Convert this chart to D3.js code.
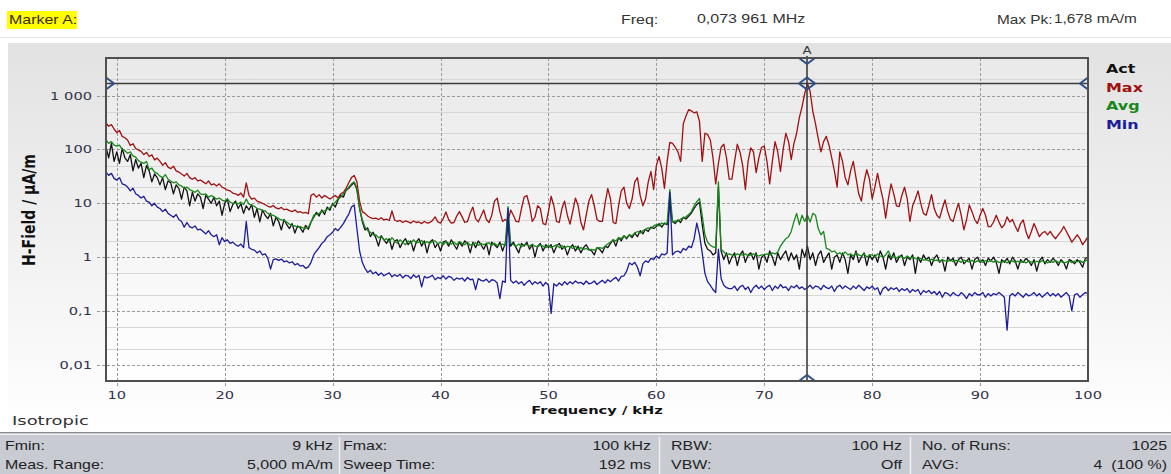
<!DOCTYPE html>
<html>
<head>
<meta charset="utf-8">
<script src="https://cdn.jsdelivr.net/npm/d3@7"></script>
<style>
  html, body { margin: 0; padding: 0; background: #fff; }
  svg { display: block; }
</style>
</head>
<body>
<svg id="chart" width="1171" height="474"></svg>
<script>
// sweep grid: 9 kHz .. 100 kHz, one reading every 0.25 kHz
const fStart = 9, fStep = 0.25;

// H-field readings in µA/m, one row per kHz (4 readings each)
const maxTrace = [
  310, 270, 290, 240,  205, 225, 175, 165,  150, 118, 128, 104,  98, 92, 80, 88,
  74, 80, 64, 69,  60, 51, 57, 47,  44, 49, 40, 38,  35, 32, 36, 30,
  28, 30, 26, 27,  25, 23, 26, 22,  23, 21, 23, 20,  19, 17.5, 17, 15.5,
  15, 14, 15.5, 13,  24, 14, 12, 12.5,  11, 10.5, 10, 9.4,  8.8, 8.5, 9.1, 8.2,
  7.9, 8.4, 7.6, 7.8,  7.3, 7.0, 7.5, 6.8,  7.0, 6.6, 6.8, 6.4,  14, 15, 13, 14.5,
  12.5, 14, 13, 12,  13, 14, 12.5, 15,  16, 19, 24, 30,  33, 25, 11, 7,
  6.5, 5.8, 5.4, 5.2,  5.3, 5.0, 5.4, 4.9,  5.1, 4.8, 7.2, 4.9,  4.6, 4.8, 4.4, 4.7,
  4.5, 4.3, 4.7, 4.4,  4.5, 4.2, 4.6, 4.3,  4.4, 4.8, 5.6, 4.5,  4.3, 5.2, 6.9, 5.0,
  4.3, 4.4, 5.8, 7.0,  5.6, 4.4, 4.6, 6.6,  8.5, 5.2, 4.5, 5.8,  7.5, 5.0, 4.4, 6.0,
  11, 12.5, 7.0, 4.6,  5.0, 4.5, 7.5, 6.0,  4.6, 4.5, 8.0, 13,  14, 9, 4.6, 5.5,
  9, 8, 4.2, 4.0,  7, 13.5, 9, 4.6,  4.4, 8, 11, 6,  4.1, 7, 12.5, 9,
  4.5, 3.2, 6, 11,  14.5, 9, 5.0, 4.6,  4.6, 10, 19, 12,  4.4, 4.2, 9, 17,
  20, 10, 8, 12,  25, 30, 14, 9,  12, 25, 39, 18,  50, 74, 45, 19,
  60, 135, 130, 110,  90, 60, 300, 420,  550, 520, 480, 500,  330, 60, 200, 190,
  150, 70, 23, 55,  110, 125, 70, 28,  28, 60, 125, 90,  50, 18, 60, 107,
  90, 37, 70, 110,  115, 60, 23, 60,  140, 90, 39, 100,  200, 140, 65, 130,
  200, 390, 620, 1100,  1678, 1200, 510, 300,  160, 90, 140, 175,  120, 70, 40, 20,
  90, 60, 30, 22,  40, 60, 30, 15,  11, 25, 42, 28,  12, 20, 36, 20,
  12, 5.3, 12, 23,  15, 9, 8.7, 14,  20, 12, 4.6, 9,  12, 17, 10, 6.5,
  6, 9, 14.5, 8,  6, 5.3, 8, 11.6,  7, 5, 4.6, 7,  10, 6, 3.2, 5,
  9.3, 7, 5, 4.2,  6, 8, 6, 3.7,  3.7, 4.5, 6, 4.5,  3.5, 4, 5.6, 4.5,
  5, 3.8, 3.0, 4.2,  4.9, 3.0, 2.2, 3,  4.2, 3.2, 2.4, 2.8,  3, 2.6, 3, 2.5,
  2.2, 2.6, 3.0, 3.7,  3, 2.4, 1.9, 2.2,  2.6, 2.2, 1.7, 2.0,
  2.4
];

const avgTrace = [
  150, 130, 140, 120,  115, 120, 100, 95,  85, 90, 76, 72,  62, 58, 55, 60,
  42, 45, 38, 36,  32, 30, 34, 28,  26, 24, 25, 22,  21, 19, 20, 18,
  17, 16, 17.5, 15,  14.5, 15, 13, 14,  13, 12, 12.5, 11.5,  11, 12, 10.5, 10,
  10.2, 9.8, 10.5, 9.5,  12, 9.6, 9.2, 8.8,  8, 7.8, 7.4, 7.2,  6.5, 6.1, 6.0, 5.6,
  5.2, 4.9, 4.8, 4.5,  4.1, 3.9, 3.8, 3.6,  3.7, 3.5, 3.4, 3.6,  4.5, 6, 6.2, 6.5,
  7, 7.2, 7.8, 8.2,  9.5, 10.5, 12, 13,  15, 17, 20, 23,  25, 19, 8, 5,
  3.6, 3.1, 2.9, 2.6,  2.6, 2.3, 2.4, 2.1,  2.2, 1.9, 2.3, 2.0,  1.8, 2.1, 1.9, 1.7,
  2.0, 1.8, 2.1, 1.85,  1.9, 2.05, 1.75, 1.95,  1.8, 1.95, 2.0, 1.75,  1.9, 1.7, 1.95, 1.8,
  1.75, 1.9, 1.7, 1.95,  1.8, 1.7, 1.9, 1.65,  1.75, 1.85, 1.65, 1.8,  1.7, 1.8, 1.85, 1.65,
  1.8, 1.65, 1.7, 1.75,  1.65, 8.7, 1.8, 1.7,  1.6, 1.75, 1.55, 1.7,  1.7, 1.6, 1.75, 1.6,
  1.55, 1.7, 1.6, 1.5,  1.65, 1.5, 1.6, 1.7,  1.5, 1.65, 1.45, 1.6,  1.55, 1.45, 1.6, 1.4,
  1.5, 1.4, 1.45, 1.35,  1.4, 1.35, 1.45, 1.5,  1.45, 1.6, 1.75, 1.9,  2.1, 2.0, 2.3, 2.2,
  2.5, 2.3, 2.6, 2.5,  2.8, 3.0, 2.8, 3.1,  3.3, 3.5, 3.4, 3.8,  4.0, 3.8, 4.3, 4.1,
  4.3, 18, 4.5, 4.7,  4.6, 5.1, 5.4, 5.6,  6.2, 7.0, 9, 10.7,  12.3, 6, 2.6, 1.9,
  1.66, 1.55, 1.5, 25,  1.4, 1.26, 1.1, 1.15,  1.1, 1.05, 1.15, 1.1,  1.1, 1.15, 1.05, 1.1,
  1.15, 1.1, 1.05, 1.1,  1.1, 1.15, 1.1, 1.2,  1.15, 1.25, 1.6, 1.9,  2.2, 2.4, 3, 4.6,
  6.5, 4, 6, 4.6,  6, 4.5, 6.5, 6,  3.4, 2.6, 3, 1.45,  1.4, 1.25, 1.3, 1.15,
  1.2, 1.1, 1.25, 1.1,  1.15, 1.05, 1.2, 1.1,  1.05, 1.15, 1.0, 1.1,  1.1, 1.0, 1.15, 1.05,
  1.0, 1.1, 1.3, 1.0,  1.05, 0.95, 1.05, 1.0,  0.95, 1.05, 0.95, 1.0,  0.95, 0.9, 0.95, 0.88,
  0.9, 0.85, 0.92, 0.86,  0.88, 0.82, 0.9, 0.85,  0.83, 0.9, 0.82, 0.87,  0.86, 0.8, 0.88, 0.84,
  0.82, 0.87, 0.8, 0.85,  0.84, 0.8, 0.86, 0.82,  0.86, 0.81, 0.85, 0.8,  0.8, 0.86, 0.78, 0.84,
  0.85, 0.8, 0.84, 0.79,  0.83, 0.78, 0.85, 0.81,  0.79, 0.84, 0.8, 0.86,  0.82, 0.78, 0.84, 0.8,
  0.86, 0.8, 0.83, 0.78,  0.81, 0.85, 0.79, 0.84,  0.82, 0.86, 0.8, 0.85,
  0.9
];

const actTrace = [
  110, 70, 130, 60,  90, 55, 105, 70,  60, 80, 40, 65,  45, 55, 30, 50,
  40, 25, 35, 30,  22, 30, 18, 26,  24, 15, 22, 19,  12, 20, 17, 9,
  16, 11, 15, 13,  8, 14, 12, 10,  13, 9, 11, 6,  10, 12, 7, 9.5,
  11, 8, 9.8, 6.5,  9, 7.5, 9.5, 5.5,  8, 4.5, 7.5, 6,  5.2, 6.5, 3.8, 5.5,
  4.6, 3.2, 5, 4.0,  3.4, 4.2, 2.8, 3.8,  3.5, 2.9, 3.9, 3.3,  4.5, 5.5, 6.8, 5.8,
  7.5, 6.2, 8.5, 7.4,  10, 8.5, 11.5, 14,  13, 18, 19, 22,  24, 18, 8, 4.6,
  3.2, 3.5, 2.4, 2.9,  2.3, 1.6, 2.5, 2.1,  1.8, 2.2, 1.4, 2.0,  2.1, 1.5, 1.9, 2.2,
  1.7, 2.0, 1.3, 1.9,  2.2, 1.6, 2.0, 1.2,  1.9, 2.1, 1.5, 1.8,  1.3, 1.9, 2.0, 1.6,
  2.1, 1.7, 1.4, 1.9,  1.6, 2.0, 1.8, 1.2,  1.9, 1.5, 2.0, 1.7,  1.4, 1.8, 1.1, 1.9,
  1.7, 1.5, 1.9, 1.3,  1.8, 4, 1.6, 1.9,  1.5, 1.2, 1.8, 1.6,  1.9, 1.4, 1.7, 1.0,
  1.6, 1.8, 1.3, 1.7,  1.5, 1.7, 1.2, 1.6,  1.8, 1.4, 1.6, 1.1,  1.5, 1.7, 1.3, 1.6,
  1.2, 1.5, 1.7, 1.4,  1.3, 1.1, 1.5, 1.4,  1.2, 1.6, 1.5, 1.8,  2.1, 1.6, 2.3, 2.0,
  2.5, 2.2, 2.6, 2.3,  2.8, 2.4, 3.1, 2.7,  3.3, 3.0, 3.6, 3.4,  3.7, 4.2, 3.6, 4.3,
  4.0, 10, 4.6, 4.2,  4.9, 4.4, 5.5, 5.1,  5.8, 6.6, 8, 9.5,  10.5, 4, 1.8, 1.4,
  1.3, 1.1, 1.2, 20,  1.3, 0.9, 1.2, 0.75,  1.0, 1.2, 0.7, 1.1,  1.3, 0.8, 1.1, 1.2,
  0.9, 1.2, 0.6, 1.0,  1.1, 0.8, 1.3, 1.0,  0.7, 1.2, 0.9, 1.1,  1.3, 0.85, 1.2, 0.9,
  1.1, 0.6, 1.4, 1.0,  1.6, 0.9, 1.2, 0.7,  1.1, 1.3, 0.8, 1.0,  1.2, 0.6, 1.0, 1.1,
  0.8, 1.2, 0.9, 0.5,  1.1, 0.9, 1.3, 0.8,  1.0, 1.2, 0.7, 1.1,  0.9, 1.1, 0.8, 1.3,
  1.0, 0.6, 1.1, 0.9,  1.2, 0.8, 1.0, 1.1,  0.7, 1.0, 0.9, 1.1,  0.5, 1.0, 0.8, 1.1,
  0.9, 1.0, 0.7, 0.95,  1.1, 0.8, 0.9, 0.55,  1.0, 0.85, 0.95, 0.7,  0.9, 1.0, 0.75, 0.85,
  0.95, 0.6, 0.9, 1.0,  0.8, 0.9, 0.7, 0.95,  0.85, 1.0, 0.8, 0.5,  0.9, 0.8, 0.95, 0.75,
  1.0, 0.85, 0.6, 0.9,  0.8, 0.95, 0.85, 0.7,  0.9, 0.55, 0.85, 1.0,  0.75, 0.9, 0.8, 0.95,
  0.85, 0.7, 0.9, 0.8,  0.6, 0.9, 0.85, 0.75,  0.9, 0.8, 0.65, 0.95,
  1.0
];

const minTrace = [
  38, 33, 36, 29,  27, 30, 23, 22,  20, 17, 19, 15,  14, 12.5, 13.5, 11,
  10.5, 9, 10, 8.5,  8, 7, 7.8, 6.5,  6, 5.5, 6.2, 5,  4.6, 3.6, 4.4, 3.7,
  3.5, 3.8, 3.2, 3.3,  3.0, 2.7, 3.1, 2.6,  2.4, 2.6, 1.7, 2.3,  1.95, 2.1, 1.8, 1.9,
  1.7, 1.6, 1.75, 1.5,  4.6, 1.5, 1.4, 1.35,  1.2, 1.3, 1.1, 1.15,  0.95, 0.6, 0.9, 0.93,
  0.87, 0.92, 0.82, 0.85,  0.78, 0.82, 0.72, 0.76,  0.68, 0.7, 0.62, 0.66,  0.8, 1.1, 1.3, 1.5,
  1.8, 2.0, 2.4, 2.6,  2.9, 3.4, 3.1, 3.6,  4.2, 5.2, 6.3, 8.5,  9.3, 3.4, 1.3, 0.8,
  0.62, 0.52, 0.57, 0.49,  0.53, 0.46, 0.51, 0.45,  0.48, 0.51, 0.43, 0.47,  0.44, 0.48, 0.41, 0.46,
  0.45, 0.4, 0.47, 0.42,  0.46, 0.28, 0.44, 0.41,  0.43, 0.46, 0.38, 0.42,  0.4, 0.45, 0.39, 0.44,
  0.42, 0.37, 0.41, 0.39,  0.41, 0.36, 0.42, 0.38,  0.39, 0.25, 0.4, 0.37,  0.36, 0.39, 0.34, 0.38,
  0.37, 0.33, 0.17, 0.36,  0.34, 8, 0.37, 0.33,  0.36, 0.32, 0.35, 0.3,  0.34, 0.37, 0.31, 0.35,
  0.32, 0.35, 0.29, 0.34,  0.3, 0.09, 0.32, 0.29,  0.33, 0.3, 0.35, 0.31,  0.35, 0.32, 0.36, 0.33,
  0.34, 0.31, 0.36, 0.32,  0.33, 0.36, 0.31, 0.34,  0.37, 0.33, 0.38, 0.35,  0.39, 0.42, 0.36, 0.44,
  0.45, 0.55, 0.78, 0.72,  0.8, 0.65, 0.45, 0.75,  0.85, 0.8, 0.95, 0.9,  1.05, 0.95, 1.15, 1.1,
  1.2, 16, 1.1, 1.25,  1.3, 1.2, 1.45, 1.35,  1.6, 1.5, 2.2, 4.3,  2.6, 1.2, 0.5, 0.35,
  0.3, 0.25, 0.22, 1.4,  0.4, 0.3, 0.27, 0.26,  0.26, 0.29, 0.24, 0.28,  0.3, 0.25, 0.28, 0.22,
  0.27, 0.3, 0.26, 0.29,  0.25, 0.28, 0.3, 0.24,  0.29, 0.26, 0.31, 0.27,  0.28, 0.24, 0.29, 0.27,
  0.3, 0.26, 0.28, 0.25,  0.27, 0.3, 0.26, 0.29,  0.28, 0.25, 0.3, 0.27,  0.26, 0.29, 0.23, 0.28,
  0.3, 0.26, 0.29, 0.27,  0.25, 0.29, 0.26, 0.3,  0.27, 0.24, 0.28, 0.26,  0.29, 0.25, 0.27, 0.2,
  0.26, 0.28, 0.24, 0.27,  0.25, 0.27, 0.23, 0.26,  0.24, 0.26, 0.22, 0.25,  0.23, 0.25, 0.2, 0.24,
  0.22, 0.24, 0.21, 0.23,  0.2, 0.23, 0.18, 0.22,  0.21, 0.19, 0.22, 0.2,  0.19, 0.22, 0.2, 0.17,
  0.21, 0.19, 0.22, 0.2,  0.2, 0.22, 0.18, 0.21,  0.19, 0.21, 0.2, 0.22,  0.2, 0.18, 0.044, 0.19,
  0.21, 0.19, 0.22, 0.2,  0.18, 0.21, 0.19, 0.2,  0.22, 0.19, 0.21, 0.18,  0.2, 0.22, 0.19, 0.21,
  0.19, 0.21, 0.18, 0.2,  0.22, 0.19, 0.1, 0.2,  0.21, 0.18, 0.2, 0.22,
  0.21
];

const xTicks = [10, 20, 30, 40, 50, 60, 70, 80, 90, 100];
const yTicks = [0.01, 0.1, 1, 10, 100, 1000];
const yTickLabels = ["0,01", "0,1", "1", "10", "100", "1 000"];
const legendNames = ["Act", "Max", "Avg", "Min"];
const legendColors = ["#111111", "#a01010", "#18881a", "#1c1c9a"];

const markerFreq = 73.961;   // kHz
const markerPeak = 1678;     // µA/m
const headerTexts = { marker: "Marker A:", freqLabel: "Freq:", freqValue: "0,073 961 MHz",
                      peakLabel: "Max Pk:", peakValue: "1,678 mA/m" };
const infoLabels = [["Fmin:", "Fmax:", "RBW:", "No. of Runs:"],
                    ["Meas. Range:", "Sweep Time:", "VBW:", "AVG:"]];
const infoValues = [["9 kHz", "100 kHz", "100 Hz", "1025"],
                    ["5,000 mA/m", "192 ms", "Off", "4  (100 %)"]];

// ---------- layout ----------
const W = 1171, H = 474;
const plot = { left: 106, right: 1088, top: 58, bottom: 381 };
const SX = 1.33;   // the screenshot is stretched sideways, text too
const verdana = "'DejaVu Sans', Verdana, sans-serif";
const tahoma = "'Liberation Sans', Arial, sans-serif";

const svg = d3.select("#chart");
const defs = svg.append("defs");

function vGrad(id, c0, c1) {
  const g = defs.append("linearGradient").attr("id", id)
    .attr("x1", 0).attr("y1", 0).attr("x2", 0).attr("y2", 1);
  g.append("stop").attr("offset", "0%").attr("stop-color", c0);
  g.append("stop").attr("offset", "100%").attr("stop-color", c1);
}
vGrad("panelGrad", "#e2e2e2", "#ffffff");
vGrad("plotGrad", "#e9e9e9", "#ffffff");

defs.append("clipPath").attr("id", "plotClip")
  .append("rect")
  .attr("x", plot.left).attr("y", plot.top)
  .attr("width", plot.right - plot.left).attr("height", plot.bottom - plot.top);

function label(g, x, y, s, o) {
  o = o || {};
  return g.append("text")
    .attr("transform", `translate(${x},${y}) scale(${o.sx || SX},1)`)
    .attr("text-anchor", o.anchor || "start")
    .style("font-family", o.font || verdana)
    .style("font-size", (o.size || 11) + "px")
    .style("font-weight", o.weight || "normal")
    .style("white-space", "pre")
    .attr("fill", o.color || "#333")
    .text(s);
}

// ---------- header ----------
svg.append("rect").attr("width", W).attr("height", H).attr("fill", "#fff");
svg.append("rect").attr("x", 7).attr("y", 11).attr("width", 70).attr("height", 18).attr("fill", "#ffff00");
label(svg, 9, 24, headerTexts.marker, { font: tahoma, size: 12, color: "#3a2a00" });
label(svg, 621, 24, headerTexts.freqLabel, { font: tahoma, size: 12 });
label(svg, 697, 23, headerTexts.freqValue, { font: tahoma, size: 12 });
label(svg, 997, 24, headerTexts.peakLabel, { font: tahoma, size: 12, sx: 1.28 });
label(svg, 1054, 23, headerTexts.peakValue, { font: tahoma, size: 12, sx: 1.28 });
svg.append("line").attr("x1", 0).attr("x2", W).attr("y1", 37.5).attr("y2", 37.5)
  .attr("stroke", "#e4e4e4");

// ---------- chart panel ----------
svg.append("rect").attr("x", 8).attr("y", 43).attr("width", W - 8).attr("height", 388)
  .attr("fill", "url(#panelGrad)");
svg.append("rect").attr("x", plot.left).attr("y", plot.top)
  .attr("width", plot.right - plot.left).attr("height", plot.bottom - plot.top)
  .attr("fill", "url(#plotGrad)");

const x = d3.scaleLinear().domain([fStart, 100]).range([plot.left, plot.right]);
const y = d3.scaleLog().domain([0.005, 5000]).range([plot.bottom, plot.top]);

// grid
const grid = svg.append("g");
const minor = [];
[0.01, 0.1, 1, 10, 100, 1000].forEach(d => { minor.push(d * 2, d * 5); });
grid.selectAll("line.minor").data(minor.filter(d => d < 4900)).join("line")
  .attr("x1", plot.left).attr("x2", plot.right)
  .attr("y1", d => Math.round(y(d)) + 0.5).attr("y2", d => Math.round(y(d)) + 0.5)
  .attr("stroke", "#d6d6d6").attr("stroke-width", 1);
grid.selectAll("line.major").data(yTicks).join("line")
  .attr("x1", plot.left - 9).attr("x2", plot.right)
  .attr("y1", d => Math.round(y(d)) + 0.5).attr("y2", d => Math.round(y(d)) + 0.5)
  .attr("stroke", "#9a9a9a").attr("stroke-dasharray", "3,2");
grid.selectAll("line.vert").data(xTicks.slice(0, -1)).join("line")
  .attr("x1", d => Math.round(x(d)) + 0.5).attr("x2", d => Math.round(x(d)) + 0.5)
  .attr("y1", plot.top).attr("y2", plot.bottom + 6)
  .attr("stroke", "#9a9a9a").attr("stroke-dasharray", "3,2");

// traces
const line = d3.line()
  .x((d, i) => x(fStart + i * fStep))
  .y(d => y(d));
const traces = svg.append("g").attr("clip-path", "url(#plotClip)");
[[actTrace, legendColors[0]], [maxTrace, legendColors[1]],
 [avgTrace, legendColors[2]], [minTrace, legendColors[3]]].forEach(([data, col]) => {
  traces.append("path").datum(data)
    .attr("d", line)
    .attr("fill", "none")
    .attr("stroke", col)
    .attr("stroke-width", 1.3)
    .attr("stroke-linejoin", "round");
});

// marker A
const mk = svg.append("g");
const mx = x(markerFreq), my = y(markerPeak);
mk.append("line").attr("x1", plot.left).attr("x2", plot.right).attr("y1", my).attr("y2", my)
  .attr("stroke", "#3c3c3c").attr("stroke-width", 1.6);
mk.append("line").attr("x1", mx).attr("x2", mx).attr("y1", plot.top - 2).attr("y2", plot.bottom)
  .attr("stroke", "#3c3c3c").attr("stroke-width", 1.6);
const dcol = "#2f4f86";
mk.append("path")
  .attr("d", `M${mx - 8},${my} L${mx},${my - 6} L${mx + 8},${my} L${mx},${my + 6} Z`)
  .attr("fill", "none").attr("stroke", dcol).attr("stroke-width", 2);
mk.append("path")
  .attr("d", `M${mx - 8},${plot.top} L${mx},${plot.top + 6} L${mx + 8},${plot.top}`)
  .attr("fill", "none").attr("stroke", dcol).attr("stroke-width", 2);
mk.append("path")
  .attr("d", `M${mx - 8},${plot.bottom} L${mx},${plot.bottom - 6} L${mx + 8},${plot.bottom}`)
  .attr("fill", "none").attr("stroke", dcol).attr("stroke-width", 2);
mk.append("path")
  .attr("d", `M${plot.left},${my - 6} L${plot.left + 8},${my} L${plot.left},${my + 6}`)
  .attr("fill", "none").attr("stroke", dcol).attr("stroke-width", 2);
mk.append("path")
  .attr("d", `M${plot.right},${my - 6} L${plot.right - 8},${my} L${plot.right},${my + 6}`)
  .attr("fill", "none").attr("stroke", dcol).attr("stroke-width", 2);
label(svg, mx, 54, "A", { size: 10, anchor: "middle", color: "#333" });

// frame
svg.append("rect").attr("x", plot.left).attr("y", plot.top)
  .attr("width", plot.right - plot.left).attr("height", plot.bottom - plot.top)
  .attr("fill", "none").attr("stroke", "#505050").attr("stroke-width", 2);

// axes labels
const axes = svg.append("g");
yTicks.forEach((d, i) => {
  label(axes, 92, y(d) + 4, yTickLabels[i], { size: 11, anchor: "end", color: "#33334a" });
});
xTicks.forEach(d => {
  label(axes, x(d), 399, String(d), { size: 11, anchor: "middle", color: "#33334a" });
});
label(axes, 597, 414, "Frequency / kHz", { size: 11, weight: "bold", anchor: "middle", color: "#111" });
axes.append("text")
  .attr("transform", "translate(35,210) rotate(-90) scale(1,1.3)")
  .attr("text-anchor", "middle")
  .style("font-family", verdana).style("font-size", "14px").style("font-weight", "bold")
  .attr("fill", "#111").text("H-Field / µA/m");

// legend
legendNames.forEach((n, i) => {
  label(svg, 1106, 73 + i * 18.7, n, { size: 12, weight: "bold", color: legendColors[i] });
});

label(svg, 12, 425, "Isotropic", { size: 13, sx: 1.38, color: "#333" });

// ---------- info table ----------
const tbl = svg.append("g");
tbl.append("rect").attr("x", 0).attr("y", 433).attr("width", W).attr("height", H - 433)
  .attr("fill", "#c8ccd2");
tbl.append("line").attr("x1", 0).attr("x2", W).attr("y1", 432.5).attr("y2", 432.5)
  .attr("stroke", "#8a8a8a");
tbl.append("line").attr("x1", 0).attr("x2", W).attr("y1", 434.5).attr("y2", 434.5)
  .attr("stroke", "#f4f4f4");
const colLabelX = [5, 343, 671, 922];
const colValueX = [333, 651, 902, 1167];
const dividerX = [339, 659, 910];
dividerX.forEach(dx => {
  tbl.append("line").attr("x1", dx + 0.5).attr("x2", dx + 0.5).attr("y1", 437).attr("y2", H)
    .attr("stroke", "#eef0f2").attr("stroke-width", 1.5);
});
[0, 1].forEach(r => {
  const ty = 450 + r * 19;
  infoLabels[r].forEach((s, c) => label(tbl, colLabelX[c], ty, s, { font: tahoma, size: 12, color: "#222" }));
  infoValues[r].forEach((s, c) => label(tbl, colValueX[c], ty, s, { font: tahoma, size: 12, anchor: "end", color: "#222" }));
});
</script>
</body>
</html>
